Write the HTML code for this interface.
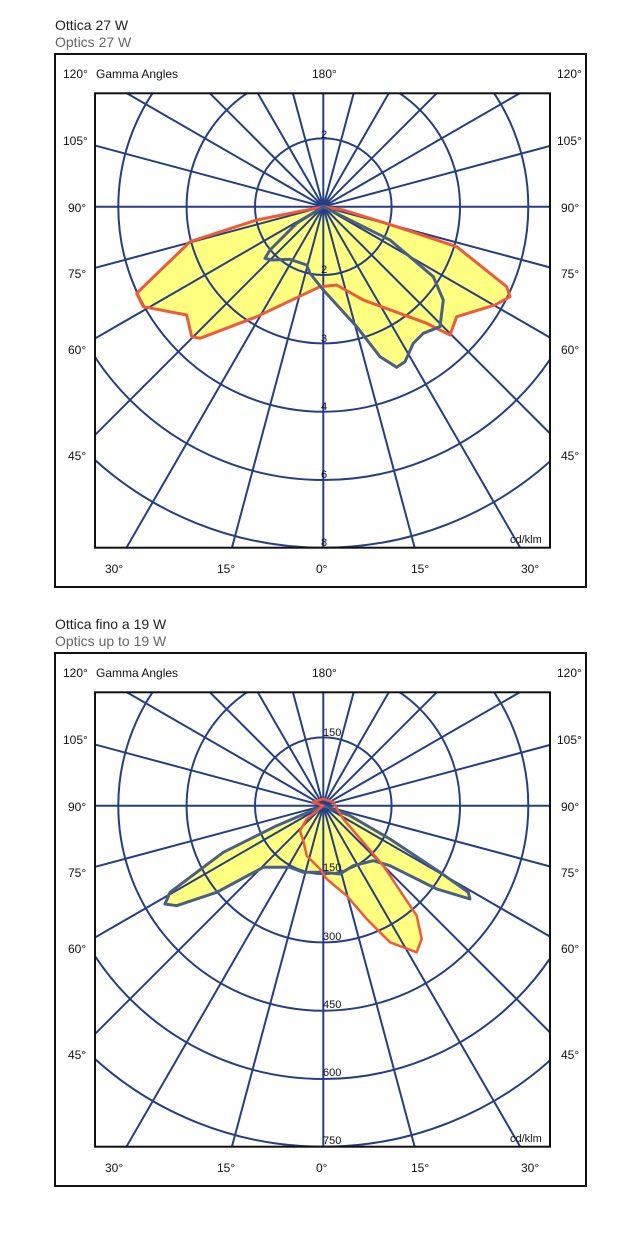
<!DOCTYPE html>
<html><head><meta charset="utf-8"><style>
html,body{margin:0;padding:0;background:#fff;width:640px;height:1240px;overflow:hidden;}
svg{display:block;font-family:"Liberation Sans",Arial,sans-serif;overflow:hidden;}
</style></head><body>
<svg width="640" height="1240" viewBox="0 0 640 1240" xmlns="http://www.w3.org/2000/svg">
<defs>
<g id="grid">
  <g fill="none" stroke="#253f86" stroke-width="2">
    <circle cx="323.3" cy="206.7" r="68.3"/>
    <circle cx="323.3" cy="206.7" r="136.7"/>
    <circle cx="323.3" cy="206.7" r="205"/>
    <circle cx="323.3" cy="206.7" r="273.3"/>
    <circle cx="323.3" cy="206.7" r="341"/>
    <g id="rays">
      <line x1="323.3" y1="206.7" x2="323.3" y2="-500"/>
      <line x1="323.3" y1="206.7" x2="323.3" y2="900"/>
      <line x1="-400" y1="206.7" x2="1000" y2="206.7"/>
    </g>
    <use href="#rays" transform="rotate(15 323.3 206.7)"/>
    <use href="#rays" transform="rotate(30 323.3 206.7)"/>
    <use href="#rays" transform="rotate(45 323.3 206.7)"/>
    <use href="#rays" transform="rotate(60 323.3 206.7)"/>
    <use href="#rays" transform="rotate(75 323.3 206.7)"/>
  </g>
</g>
<clipPath id="clip"><rect x="95" y="93.3" width="455" height="454.4"/></clipPath>
<g id="frame">
  <rect x="55" y="54" width="531" height="533" fill="none" stroke="#111" stroke-width="2"/>
  <g font-size="12" fill="#111">
    <text x="63" y="78">120°</text>
    <text x="96" y="78">Gamma Angles</text>
    <text x="312" y="78">180°</text>
    <text x="557" y="78">120°</text>
    <text x="63" y="145">105°</text><text x="557" y="145">105°</text>
    <text x="68" y="212">90°</text><text x="561" y="212">90°</text>
    <text x="68" y="278">75°</text><text x="561" y="278">75°</text>
    <text x="68" y="354">60°</text><text x="561" y="354">60°</text>
    <text x="68" y="460">45°</text><text x="561" y="460">45°</text>
    <text x="105" y="573">30°</text>
    <text x="217" y="573">15°</text>
    <text x="316" y="573">0°</text>
    <text x="411" y="573">15°</text>
    <text x="521" y="573">30°</text>
  </g>
</g>
</defs>

<!-- Chart 1 -->
<text x="55" y="30" font-size="14" fill="#222">Ottica 27 W</text>
<text x="55" y="47" font-size="14" fill="#666">Optics 27 W</text>
<use href="#frame"/>
<g clip-path="url(#clip)">
  <path fill="#ffff80" d="M323.3,206.7 L256.7,220 L190,241.7 L136.7,293.3 L143.3,306.7 L186.7,315 L191.7,336.7 L200,338.3 L256.7,316.7 L320,286.7 L336.7,285 L363.3,300 L426.7,323.3 L450,335 L456.7,316.7 L495,305 L510,296.7 L506.7,286.7 L456.7,246.7 L396.7,226.7 L343.3,210 Z"/>
  <path fill="#ffff80" d="M323.3,206.7 L296.7,223.3 L270,250 L265,258.3 L271.7,260 L290,259.3 L306.7,265 L310,273.3 L323.3,290 L356.7,326.7 L380,356.7 L396.7,367.3 L405,361.7 L413.3,343.3 L423.3,333.3 L440,326.7 L443.3,300 L433.3,276.7 L390,240 L343.3,216.7 Z"/>
  <use href="#grid"/>
  <path fill="none" stroke="#f05a3a" stroke-width="3" stroke-linejoin="round" d="M323.3,206.7 L256.7,220 L190,241.7 L136.7,293.3 L143.3,306.7 L186.7,315 L191.7,336.7 L200,338.3 L256.7,316.7 L320,286.7 L336.7,285 L363.3,300 L426.7,323.3 L450,335 L456.7,316.7 L495,305 L510,296.7 L506.7,286.7 L456.7,246.7 L396.7,226.7 L343.3,210 Z"/>
  <path fill="none" stroke="#4a5f86" stroke-width="3" stroke-linejoin="round" d="M323.3,206.7 L296.7,223.3 L270,250 L265,258.3 L271.7,260 L290,259.3 L306.7,265 L310,273.3 L323.3,290 L356.7,326.7 L380,356.7 L396.7,367.3 L405,361.7 L413.3,343.3 L423.3,333.3 L440,326.7 L443.3,300 L433.3,276.7 L390,240 L343.3,216.7 Z"/>
</g>
<rect x="95" y="93.3" width="455" height="454.4" fill="none" stroke="#111" stroke-width="2"/>
<g font-size="11" fill="#111">
  <text x="321" y="138">2</text>
  <text x="321" y="273">2</text>
  <text x="321" y="342">3</text>
  <text x="321" y="410">4</text>
  <text x="321" y="478">6</text>
  <text x="321" y="546">8</text>
  <text x="510" y="543">cd/klm</text>
</g>

<!-- Chart 2 -->
<g transform="translate(0,599)">
<text x="55" y="30" font-size="14" fill="#222">Ottica fino a 19 W</text>
<text x="55" y="47" font-size="14" fill="#666">Optics up to 19 W</text>
<use href="#frame"/>
<g clip-path="url(#clip)">
  <path fill="#ffff80" d="M323.3,206.7 L276.7,226.7 L223.3,253.3 L170,293.3 L165,305 L176.7,306.7 L216.7,293.3 L263.3,268.3 L290,268.3 L303.3,273.3 L323.3,273.3 L340,275 L353.3,266.7 L373.3,261.7 L390,266.7 L436.7,290 L470,300 L468.3,293.3 L440,273.3 L390,240 L350,216.7 Z"/>
  <path fill="#ffff80" d="M323.3,206.7 L306.7,220 L300,231.7 L303.3,241.7 L306.7,256.7 L320,270 L326.7,280 L346.7,296.7 L366.7,320 L390,343.3 L416.7,353.3 L421.7,340 L416.7,316.7 L383.3,266.7 L343.3,220 Z"/>
  <use href="#grid"/>
  <path fill="none" stroke="#4a5f86" stroke-width="3" stroke-linejoin="round" d="M323.3,206.7 L276.7,226.7 L223.3,253.3 L170,293.3 L165,305 L176.7,306.7 L216.7,293.3 L263.3,268.3 L290,268.3 L303.3,273.3 L323.3,273.3 L340,275 L353.3,266.7 L373.3,261.7 L390,266.7 L436.7,290 L470,300 L468.3,293.3 L440,273.3 L390,240 L350,216.7 Z"/>
  <path fill="none" stroke="#f05a3a" stroke-width="2.5" stroke-linejoin="round" d="M323.3,206.7 L306.7,220 L300,231.7 L303.3,241.7 L306.7,256.7 L320,270 L326.7,280 L346.7,296.7 L366.7,320 L390,343.3 L416.7,353.3 L421.7,340 L416.7,316.7 L383.3,266.7 L343.3,220 L333,203 L323,200 L313,203 Z"/>
</g>
<rect x="95" y="93.3" width="455" height="454.4" fill="none" stroke="#111" stroke-width="2"/>
<g font-size="11" fill="#111">
  <text x="323" y="137">150</text>
  <text x="323" y="272">150</text>
  <text x="323" y="341">300</text>
  <text x="323" y="409">450</text>
  <text x="323" y="477">600</text>
  <text x="323" y="545">750</text>
  <text x="510" y="543">cd/klm</text>
</g>
</g>
</svg>
</body></html>
